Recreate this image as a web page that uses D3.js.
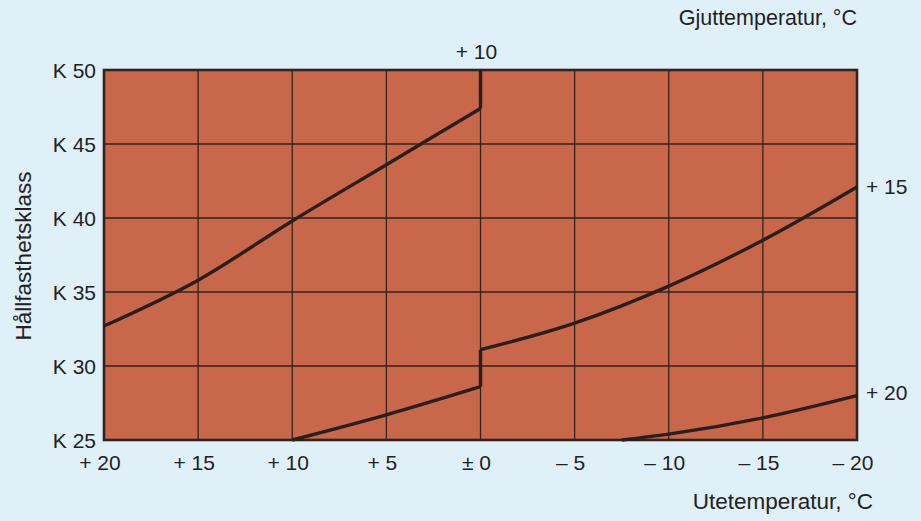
<!DOCTYPE html>
<html>
<head>
<meta charset="utf-8">
<script src="https://cdn.jsdelivr.net/npm/d3@7"></script>
<style>
  html, body { margin: 0; padding: 0; background: #e0f0f8; }
  svg { display: block; }
  text { font-family: "Liberation Sans", Arial, Helvetica, sans-serif; fill: #222; }
</style>
</head>
<body>
<svg id="chart" width="921" height="521"></svg>
<script>
// ---- data ----
const xTicks = [20, 15, 10, 5, 0, -5, -10, -15, -20];
const xTickLabels = ["+ 20", "+ 15", "+ 10", "+ 5", "\u00B1 0", "\u2013 5", "\u2013 10", "\u2013 15", "\u2013 20"];
const yTicks = [25, 30, 35, 40, 45, 50];
const yTickLabels = ["K 25", "K 30", "K 35", "K 40", "K 45", "K 50"];

// casting temperature +10 °C
const temps10 = [20, 15, 10, 5, 0, 0];
const class10 = [32.7, 35.8, 39.8, 43.6, 47.4, 50];
// casting temperature +15 °C
const temps15 = [10, 5, 0, 0, -5, -10, -15, -20];
const class15 = [25, 26.7, 28.6, 31.1, 32.9, 35.4, 38.5, 42.1];
// casting temperature +20 °C
const temps20 = [-7.5, -10, -15, -20];
const class20 = [25, 25.4, 26.5, 28.0];

const seriesNames = ["+ 10", "+ 15", "+ 20"];

// ---- layout ----
const svg = d3.select("#chart");
const W = 921, H = 521;
const m = { left: 104, right: 64, top: 70, bottom: 81 };

const x = d3.scaleLinear().domain([20, -20]).range([m.left, W - m.right]);
const y = d3.scaleLinear().domain([25, 50]).range([H - m.bottom, m.top]);

// plot background
svg.append("rect")
  .attr("x", x(20)).attr("y", y(50))
  .attr("width", x(-20) - x(20)).attr("height", y(25) - y(50))
  .attr("fill", "#c8674a");

// grid
const grid = svg.append("g").attr("stroke", "#33221c").attr("stroke-width", 1.3);
grid.selectAll("line.v").data(xTicks).join("line")
  .attr("x1", d => x(d)).attr("x2", d => x(d))
  .attr("y1", y(50)).attr("y2", y(25));
grid.selectAll("line.h").data(yTicks).join("line")
  .attr("x1", x(20)).attr("x2", x(-20))
  .attr("y1", d => y(d)).attr("y2", d => y(d));

// frame
svg.append("rect")
  .attr("x", x(20)).attr("y", y(50))
  .attr("width", x(-20) - x(20)).attr("height", y(25) - y(50))
  .attr("fill", "none").attr("stroke", "#2e2420").attr("stroke-width", 2.6);

// curves: split into smooth runs at vertical jumps
function drawSeries(temps, vals) {
  const pts = temps.map((t, i) => [t, vals[i]]);
  const runs = [];
  let cur = [pts[0]];
  for (let i = 1; i < pts.length; i++) {
    if (pts[i][0] === pts[i - 1][0]) {
      runs.push(cur);
      runs.push([pts[i - 1], pts[i]]);
      cur = [pts[i]];
    } else {
      cur.push(pts[i]);
    }
  }
  runs.push(cur);
  const smooth = d3.line().x(d => x(d[0])).y(d => y(d[1])).curve(d3.curveMonotoneX);
  const straight = d3.line().x(d => x(d[0])).y(d => y(d[1]));
  runs.filter(r => r.length > 1).forEach(r => {
    const vertical = r.length === 2 && r[0][0] === r[1][0];
    svg.append("path")
      .attr("d", vertical ? straight(r) : smooth(r))
      .attr("fill", "none")
      .attr("stroke", "#2a1f1c")
      .attr("stroke-width", 3.4)
      .attr("stroke-linejoin", "round");
  });
}
drawSeries(temps10, class10);
drawSeries(temps15, class15);
drawSeries(temps20, class20);

// axis tick labels
const fs = 21;
svg.append("g").selectAll("text").data(xTicks).join("text")
  .attr("x", d => x(d) - 4)
  .attr("y", H - m.bottom + 30)
  .attr("text-anchor", "middle")
  .attr("font-size", fs)
  .text((d, i) => xTickLabels[i]);

svg.append("g").selectAll("text").data(yTicks).join("text")
  .attr("x", x(20) - 8)
  .attr("y", d => y(d) + 7.5)
  .attr("text-anchor", "end")
  .attr("font-size", fs)
  .text((d, i) => yTickLabels[i]);

// series labels
svg.append("text")
  .attr("x", x(0) - 4).attr("y", y(50) - 11)
  .attr("text-anchor", "middle").attr("font-size", fs)
  .text(seriesNames[0]);
svg.append("text")
  .attr("x", x(-20) + 9).attr("y", y(class15[class15.length - 1]) + 7)
  .attr("font-size", fs)
  .text(seriesNames[1]);
svg.append("text")
  .attr("x", x(-20) + 9).attr("y", y(class20[class20.length - 1]) + 4)
  .attr("font-size", fs)
  .text(seriesNames[2]);

// axis titles
svg.append("text")
  .attr("x", 857).attr("y", 25)
  .attr("text-anchor", "end").attr("font-size", 21.5)
  .text("Gjuttemperatur, \u00B0C");
svg.append("text")
  .attr("x", 873).attr("y", 509)
  .attr("text-anchor", "end").attr("font-size", 22.5)
  .text("Utetemperatur, \u00B0C");
svg.append("text")
  .attr("transform", "translate(31,256) rotate(-90)")
  .attr("text-anchor", "middle").attr("font-size", 22.5)
  .text("Hållfasthetsklass");
</script>
</body>
</html>
